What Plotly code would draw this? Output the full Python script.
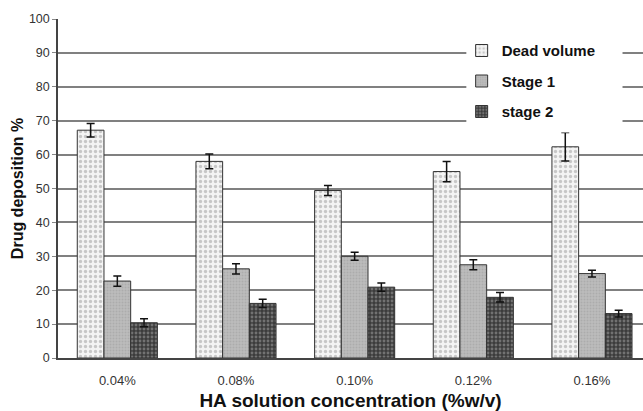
import plotly.graph_objects as go

concentrations = ["0.04%", "0.08%", "0.10%", "0.12%", "0.16%"]

dead_volume = [67.2, 58.0, 49.4, 55.0, 62.3]
dead_volume_err = [2.0, 2.2, 1.5, 3.0, 4.2]

stage_1 = [22.7, 26.3, 30.0, 27.5, 24.9]
stage_1_err = [1.5, 1.5, 1.2, 1.5, 1.0]

stage_2 = [10.4, 16.1, 20.9, 17.9, 13.1]
stage_2_err = [1.2, 1.2, 1.2, 1.4, 1.0]

y_ticks = list(range(0, 101, 10))

FONT = "Liberation Sans, Arial, sans-serif"
OUTLINE = dict(color="#333333", width=1)


def err(values):
    return dict(type="data", array=values, visible=True,
                color="#111111", thickness=1.5, width=4)


fig = go.Figure()
fig.add_trace(go.Bar(
    name="Dead volume", x=concentrations, y=dead_volume,
    error_y=err(dead_volume_err), legendgroup="a",
    marker=dict(color="white", line=OUTLINE,
                pattern=dict(shape=".", bgcolor="#f4f4f4", fgcolor="#9a9a9a",
                             size=5, solidity=0.35)),
))
fig.add_trace(go.Bar(
    name="Stage 1", x=concentrations, y=stage_1,
    error_y=err(stage_1_err), legendgroup="b",
    marker=dict(color="#b3b3b3", line=OUTLINE,
                pattern=dict(shape=".", bgcolor="#bdbdbd", fgcolor="#9c9c9c",
                             size=3, solidity=0.4)),
))
fig.add_trace(go.Bar(
    name="stage 2", x=concentrations, y=stage_2,
    error_y=err(stage_2_err), legendgroup="c",
    marker=dict(color="#555555", line=OUTLINE,
                pattern=dict(shape=".", bgcolor="#3c3c3c", fgcolor="#a8a8a8",
                             size=4, solidity=0.4)),
))

# white patch behind the legend, breaking the grid lines
fig.add_shape(type="rect", xref="paper", yref="paper",
              x0=0.698, x1=0.965, y0=0.665, y1=0.95,
              fillcolor="white", line_width=0, layer="above")

fig.update_layout(
    width=643, height=411,
    margin=dict(l=58, r=0, t=19, b=53),
    paper_bgcolor="white", plot_bgcolor="white",
    barmode="group", bargap=0.325, bargroupgap=0,
    font=dict(family=FONT, size=12, color="#333333"),
    showlegend=True,
    legend=dict(x=0.69, y=0.955, xanchor="left", yanchor="top",
                bgcolor="rgba(0,0,0,0)", traceorder="grouped",
                tracegroupgap=8,
                font=dict(family=FONT, size=15, color="#111111", weight="bold")),
    xaxis=dict(
        range=[-0.5, 4.43], showgrid=False,
        showline=True, linecolor="#444444", linewidth=1.5,
        ticks="", ticklabelstandoff=10,
        tickfont=dict(size=13, color="#333333"),
        title=dict(text="HA solution concentration (%w/v)", standoff=10,
                   font=dict(family=FONT, size=19, color="#111111", weight="bold")),
    ),
    yaxis=dict(
        range=[0, 100], tickvals=y_ticks,
        showgrid=True, gridcolor="#808080", gridwidth=1.5,
        showline=True, linecolor="#444444", linewidth=1.5,
        ticks="outside", ticklen=4, tickcolor="#888888",
        tickfont=dict(size=12.5, color="#333333"),
        title=dict(text="Drug deposition %", standoff=1,
                   font=dict(family=FONT, size=16, color="#111111", weight="bold")),
    ),
)

fig.write_html("out.html")
